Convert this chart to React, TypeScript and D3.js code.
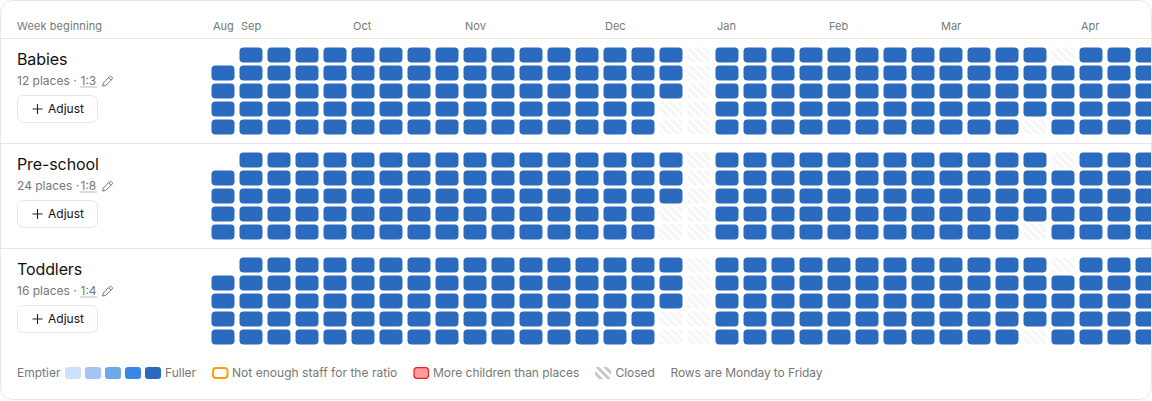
import React from "react";
import * as d3 from "d3";

const weeks = d3.range(34);
const weekdays = ["Mon", "Tue", "Wed", "Thu", "Fri"];
const monthLabels = ["Aug", "Sep", "Oct", "Nov", "Dec", "Jan", "Feb", "Mar", "Apr"];
const monthWeeks = [0, 1, 5, 9, 14, 18, 22, 26, 31];

// Load per week, one string per weekday: 5 = fullest band, x = closed, - = outside the term
const babiesDays = [
  "-5555555555555555x555555555555x555",
  "55555555555555555x5555555555555555",
  "55555555555555555x5555555555555555",
  "5555555555555555xx5555555555555555",
  "5555555555555555xx55555555555x5555",
];
const preschoolDays = [...babiesDays];
const toddlersDays = [...babiesDays];

const groupNames = ["Babies", "Pre-school", "Toddlers"];
const groupPlaces = ["12 places", "24 places", "16 places"];
const groupRatios = ["1:3", "1:8", "1:4"];
const groupDays = [babiesDays, preschoolDays, toddlersDays];

const bandColors = ["#cbe1fb", "#a1c6f4", "#6ea7ea", "#3a86e4", "#2a6bbf"];
const INK = "#111";
const MUTED = "#777";
const LINE = "#e6e6e6";
const FONT = "Inter, sans-serif";

const W = 1152;
const H = 401;
const ROW_TOP = [38.5, 143.5, 248.5];

const x = d3.scaleBand<number>().domain(weeks).range([209, 209 + 28 * 34]).paddingInner(5 / 28).paddingOuter(2.5 / 28);
const y = d3.scaleBand<string>().domain(weekdays).range([7, 7 + 18 * 5]).paddingInner(3 / 18).paddingOuter(1.5 / 18);
const colorScale = d3.scaleOrdinal<string, string>().domain(["1", "2", "3", "4", "5"]).range(bandColors);

function Pencil({ px, py }: { px: number; py: number }) {
  return (
    <g transform={`translate(${px},${py})`} fill="none" stroke="#666" strokeWidth={0.9} strokeLinejoin="round">
      <path d="M1 10.5 L1.8 7.5 L8.2 1.1 Q9 0.4 9.9 1.2 L10.6 1.9 Q11.3 2.8 10.6 3.6 L4.2 10 Z" />
      <path d="M7.2 2.2 L9.6 4.6" />
    </g>
  );
}

function Group({ index }: { index: number }) {
  const top = ROW_TOP[index];
  const days = groupDays[index];
  const ratioX = 80.5;
  return (
    <g>
      <text x={17} y={top + 26} fontSize={16} fontWeight={400} letterSpacing={-0.1} fill={INK}>{groupNames[index]}</text>
      <text x={17} y={top + 46.5} fontSize={12} fill={MUTED}>{groupPlaces[index]} · </text>
      <text x={ratioX} y={top + 46.5} fontSize={12} fill={MUTED}>{groupRatios[index]}</text>
      <line x1={ratioX} x2={ratioX + 16.5} y1={top + 48.5} y2={top + 48.5} stroke="#777" strokeWidth={1} strokeDasharray="1 1" />
      <Pencil px={101.5} py={top + 37} />
      <rect x={17.5} y={top + 57} width={80} height={27} rx={6} fill="#fff" stroke={LINE} />
      <path d={`M32.5 ${top + 70.5} H42.5 M37.5 ${top + 65.5} V${top + 75.5}`} stroke="#222" strokeWidth={1.1} />
      <text x={48} y={top + 74.5} fontSize={12} fontWeight={400} fill={INK}>Adjust</text>
      <g transform={`translate(0,${top + 0})`}>
        {weekdays.map((day, r) =>
          weeks.map((w) => {
            const v = days[r][w];
            if (v === "-") return null;
            return (
              <rect
                key={`${day}-${w}`}
                x={x(w)}
                y={y(day)! + 0.5}
                width={x.bandwidth()}
                height={y.bandwidth()}
                rx={4}
                fill={v === "x" ? "url(#closed)" : colorScale(v)}
              />
            );
          })
        )}
      </g>
    </g>
  );
}

export default function App() {
  const legendText = { fontSize: 12, fill: MUTED } as const;
  return (
    <svg
      width={W}
      height={H}
      viewBox={`0 0 ${W} ${H}`}
      style={{ position: "absolute", left: 0, top: 0, display: "block", background: "#fff" }}
      fontFamily={FONT}
    >
      <defs>
        <pattern id="closed" width={5.66} height={5.66} patternUnits="userSpaceOnUse" patternTransform="rotate(45)">
          <rect width={5.66} height={5.66} fill="#fff" />
          <rect width={5.66} height={2.83} fill="#f5f5f5" />
        </pattern>
        <pattern id="closedKey" width={5.66} height={5.66} patternUnits="userSpaceOnUse" patternTransform="rotate(45)">
          <rect width={5.66} height={5.66} fill="#fff" />
          <rect width={5.66} height={2.83} fill="#c6c6c6" />
        </pattern>
        <clipPath id="card">
          <rect x={0.5} y={0.5} width={1151} height={399} rx={12} />
        </clipPath>
      </defs>
      <g clipPath="url(#card)">
        <text x={17} y={30} fontSize={11} fill={MUTED} letterSpacing={0.1}>Week beginning</text>
        {monthLabels.map((m, i) => (
          <text key={m} x={x(monthWeeks[i])! + 1.5} y={30} fontSize={11} fill={MUTED}>{m}</text>
        ))}
        {ROW_TOP.map((t) => (
          <line key={t} x1={0} x2={W} y1={t} y2={t} stroke={LINE} />
        ))}
        <Group index={0} />
        <Group index={1} />
        <Group index={2} />
        <text x={17} y={377} {...legendText}>Emptier</text>
        {bandColors.map((c, i) => (
          <rect key={c} x={65 + i * 20} y={367} width={16} height={12} rx={3} fill={c} />
        ))}
        <text x={165} y={377} {...legendText}>Fuller</text>
        <rect x={213} y={368} width={14.5} height={10} rx={3} fill="#fff" stroke="#ff9f0a" strokeWidth={2} />
        <text x={232} y={377} {...legendText} letterSpacing={0.03}>Not enough staff for the ratio</text>
        <rect x={414} y={367.7} width={14.5} height={10.6} rx={3} fill="#ff9d9d" stroke="#e8202a" strokeWidth={1.2} />
        <text x={433} y={377} {...legendText} letterSpacing={-0.03}>More children than places</text>
        <rect x={595} y={367} width={16} height={12} rx={2} fill="url(#closedKey)" />
        <text x={615.5} y={377} {...legendText} letterSpacing={-0.05}>Closed</text>
        <text x={670.5} y={377} {...legendText} letterSpacing={-0.08}>Rows are Monday to Friday</text>
      </g>
      <rect x={0.5} y={0.5} width={1151} height={399} rx={12} fill="none" stroke={LINE} />
    </svg>
  );
}
